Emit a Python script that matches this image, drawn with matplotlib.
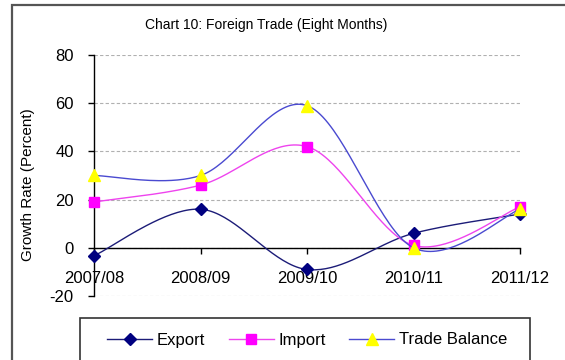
import numpy as np
import matplotlib.pyplot as plt
from matplotlib.patches import Rectangle

plt.rcParams['font.family'] = ['Liberation Sans', 'DejaVu Sans']
plt.rcParams['axes.unicode_minus'] = False

# Данные: темпы роста внешней торговли (восемь месяцев), %
years = ['2007/08', '2008/09', '2009/10', '2010/11', '2011/12']
export = [-3.3, 16, -9, 6, 14]
imports = [19, 26, 42, 1, 17]
trade_balance = [30, 30, 59, 0, 16]


def smooth(xs, ys, n=40):
    """
    Сглаженная кривая (Безье по Катмулл-Рому), проходит через все точки.
    Возвращает массивы и индексы исходных точек для markevery.
    """
    pts = np.column_stack([xs, ys]).astype(float)
    ext = np.vstack([pts[0], pts, pts[-1]])
    t = np.linspace(0, 1, n + 1)[:, None]
    out = []
    for i in range(len(pts) - 1):
        p0, p1, p2, p3 = ext[i], ext[i + 1], ext[i + 2], ext[i + 3]
        c1 = p1 + (p2 - p0) / 6
        c2 = p2 - (p3 - p1) / 6
        seg = ((1 - t) ** 3) * p1 + 3 * ((1 - t) ** 2) * t * c1 \
            + 3 * (1 - t) * t ** 2 * c2 + t ** 3 * p2
        out.append(seg if i == 0 else seg[1:])
    curve = np.vstack(out)
    marks = [i * n for i in range(len(pts))]
    return curve[:, 0], curve[:, 1], marks


W, H = 565, 360
fig = plt.figure(figsize=(W / 100, H / 100), dpi=100)
ax = fig.add_axes([94 / W, 1 - 296 / H, (520 - 94) / W, (296 - 55) / H])

x = np.arange(len(years))
series = [
    (export, 'Export', '#1c1c78', 'D', '#000080', 6.5),
    (imports, 'Import', '#ee44ee', 's', '#ff00ff', 7),
    (trade_balance, 'Trade Balance', '#4a4ad0', '^', '#ffff00', 8),
]
for vals, name, lc, mk, mc, ms in series:
    sx, sy, marks = smooth(x, vals)
    ax.plot(sx, sy, color=lc, lw=1.0, marker=mk, markevery=marks,
            markersize=ms, markerfacecolor=mc, markeredgecolor=mc,
            label=name, clip_on=False, zorder=3)

ax.set_xlim(0, len(years) - 1)
ax.set_ylim(-20, 80)
ax.set_yticks(np.arange(-20, 81, 20))
ax.set_xticks(x)
ax.set_xticklabels(years)

ax.spines['top'].set_visible(False)
ax.spines['right'].set_visible(False)
ax.spines['bottom'].set_position(('data', 0))
ax.spines['bottom'].set_linewidth(1.0)
ax.spines['left'].set_linewidth(1.0)

ax.tick_params(axis='y', direction='out', length=4.5, width=1.0,
               labelsize=12, pad=10)
ax.tick_params(axis='x', direction='out', length=4, width=1.0,
               labelsize=12, pad=13)
ax.yaxis.grid(True, linestyle=(0, (3, 2)), color='#b0b0b0', lw=0.8)
ax.set_axisbelow(True)

ax.set_ylabel('Growth Rate (Percent)', fontsize=11)
ax.yaxis.set_label_coords(35 / W, 1 - 185 / H, transform=fig.transFigure)

fig.text(266 / W, 1 - 25 / H, 'Chart 10: Foreign Trade (Eight Months)',
         ha='center', va='center', fontsize=10)

# Легенда внизу в рамке
leg = ax.legend(loc='center left', bbox_to_anchor=(107 / W, 1 - 340 / H),
                bbox_transform=fig.transFigure, ncol=3, frameon=False,
                fontsize=12, handlelength=2.7, handletextpad=0.3,
                columnspacing=1.4, borderpad=0, borderaxespad=0)
fig.add_artist(Rectangle((80 / W, -0.1), (530 - 80) / W, 0.1 + 1 - 318 / H,
                         transform=fig.transFigure, fill=False,
                         edgecolor='#333333', lw=1.2))

# Внешняя рамка диаграммы
fig.add_artist(Rectangle((12 / W, -0.1), 1, 0.1 + 1 - 5 / H,
                         transform=fig.transFigure, fill=False,
                         edgecolor='#555555', lw=1.6))

fig.savefig('out.png', dpi=100)
